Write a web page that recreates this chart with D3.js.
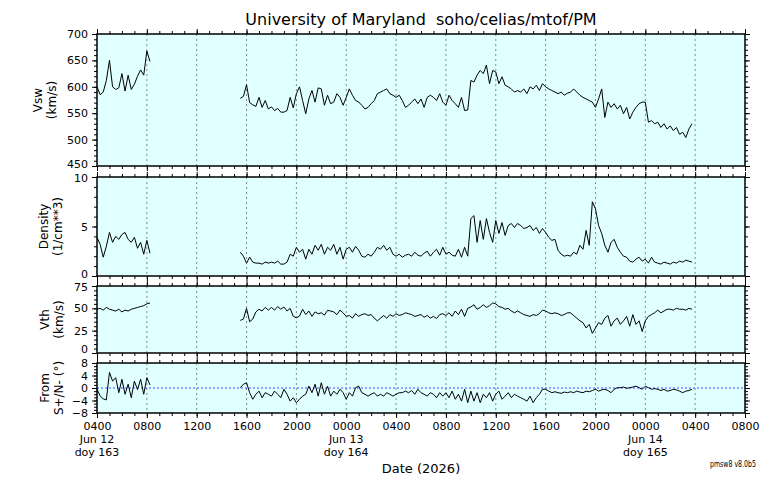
<!DOCTYPE html>
<html>
<head>
<meta charset="utf-8">
<style>
  body { margin: 0; background: #fff; }
  svg text { font-family: "DejaVu Sans", sans-serif; fill: #000; }
  svg .bg { fill: #e0ffff; }
  svg .frame { fill: none; stroke: #000; stroke-width: 1.5px; }
  svg .grid { stroke: #888; stroke-width: 1px; stroke-dasharray: 2,3; }
  svg .zero { stroke: #4a4aff; stroke-width: 1px; stroke-dasharray: 2,2; }
  svg .trace { fill: none; stroke: #000; stroke-width: 1px; stroke-linejoin: round; }
</style>
</head>
<body>
<script src="https://cdn.jsdelivr.net/npm/d3@7"></script>
<script>
// two data segments, 15 minute samples
var seg1Start = Date.UTC(2026, 5, 12, 4, 0);
var seg2Start = Date.UTC(2026, 5, 12, 15, 30);
var stepMin = 15;

var vswSeg1 = [600, 585, 590, 612, 650, 600, 595, 598, 625, 592, 622, 595, 605, 620, 632, 622, 668, 648];
var vswSeg2 = [578, 582,
  604, 570, 566, 563,  580, 561, 574, 558,  562, 555, 559, 552,  552, 555, 580, 560,
  587, 600, 574, 549,  577, 593, 571, 598,  596, 565, 584, 568,  571, 587, 580, 565,
  580, 596, 584, 574,  571, 565, 558, 561,  568, 574, 587, 590,  593, 596, 587, 584,
  580, 584, 574, 561,  565, 571, 577, 568,  577, 561, 580, 584,  580, 574, 587, 571,
  565, 584, 574, 568,  561, 580, 555, 556,  612, 609, 622, 631,  625, 641, 606, 631,
  628, 606, 619, 603,  600, 596, 590, 593,  590, 596, 587, 600,  596, 603, 593, 606,
  600, 596, 593, 590,  587, 590, 584, 588,  590, 596, 590, 584,  580, 577, 574, 571,
  561, 577, 596, 542,  571, 561, 568, 558,  565, 549, 561, 539,  552, 561, 568, 571,
  571, 533, 536, 530,  533, 523, 530, 520,  526, 517, 523, 510,  514, 504, 520, 530];

var denSeg1 = [3.9, 3.2, 1.9, 3.0, 4.4, 3.4, 4.0, 3.7, 4.2, 4.4, 3.7, 3.4, 3.9, 2.8, 3.4, 2.2, 3.6, 2.3];
var denSeg2 = [2.4, 2.0,
  1.3, 1.9, 1.4, 1.3,  1.3, 1.2, 1.4, 1.3,  1.4, 1.3, 1.5, 1.2,  1.2, 1.4, 2.2, 2.0,
  2.9, 2.4, 2.7, 1.7,  2.7, 2.2, 3.1, 2.6,  3.2, 2.2, 2.9, 2.6,  3.2, 2.2, 2.9, 1.7,
  2.7, 2.9, 2.4, 3.0,  2.6, 2.0, 1.9, 2.2,  2.0, 2.4, 2.9, 2.7,  3.1, 2.6, 2.9, 2.2,
  2.0, 2.2, 1.9, 2.1,  2.2, 2.0, 2.4, 2.1,  2.0, 2.3, 2.5, 2.0,  2.4, 2.7, 2.1, 2.9,
  2.2, 2.4, 2.1, 2.0,  2.7, 1.9, 2.9, 2.0,  5.8, 6.1, 3.4, 5.6,  3.7, 5.8, 4.4, 3.4,
  5.6, 4.3, 5.4, 4.1,  5.1, 5.3, 4.9, 5.3,  5.1, 4.8, 4.9, 5.1,  4.6, 4.9, 4.3, 4.8,
  4.4, 3.9, 3.6, 3.7,  2.6, 2.2, 2.0, 2.1,  2.0, 2.4, 2.2, 3.1,  2.7, 4.6, 3.1, 7.5,
  6.8, 5.1, 4.3, 3.1,  2.4, 3.4, 3.7, 2.9,  2.4, 2.0, 1.9, 1.5,  1.4, 1.7, 1.9, 1.5,
  1.7, 1.3, 1.9, 1.4,  1.3, 1.2, 1.4, 1.3,  1.2, 1.4, 1.3, 1.5,  1.4, 1.6, 1.5, 1.4];

var vthSeg1 = [49, 50, 48, 51, 49, 48, 47, 49, 46, 48, 47, 49, 50, 51, 52, 53, 55, 56];
var vthSeg2 = [36.5, 38,
  50, 35, 38, 46,  49, 47, 51, 48,  51, 48, 52, 49,  51.5, 47, 50, 41,
  39.4, 41.3, 49, 43,  47, 41, 46, 44,  45, 42.4, 47.7, 47,  46, 43, 48, 45,
  41, 42, 39, 44,  41, 43, 44, 42,  43, 39, 36, 39,  42, 39, 43, 41,
  44, 42, 43, 45,  44, 43, 41, 42,  43, 40, 42, 39,  41, 38.6, 43, 44,
  42, 45, 41, 47,  43, 49, 41, 50,  51.5, 54, 49, 51,  54, 51, 53, 56,
  55, 52, 51, 49,  50, 47, 45, 47,  45, 43, 42, 41,  43, 42, 44, 48,
  47, 45, 44, 45,  44, 42, 43, 45,  45, 42, 39, 36,  34, 28, 32, 22,
  28, 34, 32, 39,  42, 30, 36, 39,  32, 36, 41, 30,  43, 32, 36, 24,
  36, 41, 43, 45,  48, 45, 47, 49,  49, 48, 50, 49,  49, 48, 50, 49];

var angSeg1 = [-0.4, -2.5, -3.5, -3.8, 5.0, 2.2, 3.3, -1.5, 2.8, -2.0, 1.2, -3.1, 2.2, -0.5, 2.8, -2.0, 3.3, 1.0];
var angSeg2 = [0.1, 1.2,
  1.7, -1.5, -3.6, -2,  -1, -3.1, -1.5, -2,  -2.6, -1, -2, -3.1,  -0.4, -2, -4.2, -3.1,
  -4.7, -3.6, -2.6, -2,  0.6, -1.5, 1.2, -2.6,  1.7, -2, 0.6, -2.6,  -1, -2, -0.4, -1.5,
  -3.6, -1.5, -2.6, 0.1,  0.6, -1.5, -2, -2.6,  -2, -1.5, -2.6, -2,  -2.6, -1.5, -2, -2.6,
  -2, -1.5, -1.5, -1,  -1.5, -0.8, -2, -0.4,  -1.5, -2, -2.6, -1.5,  -2, -3.1, -1.5, -2.6,
  -1.5, -3.1, -1, -3.6,  -2, -4.2, -0.4, -4.7,  -1, -4.2, -1.5, -4.7,  -2, -3.1, -1.5, -4.2,
  -2, -1, -3.6, -2.6,  -1.5, -3.1, -2, -2.6,  -3.1, -3.6, -4.2, -2.6,  -4.7, -3.1, -2, -0.4,
  -0.4, -1, -1.5, -1.2,  -1.5, -1.7, -1.3, -1.5,  -1.2, -1.5, -1, -1.3,  -1.5, -1, -1.2, -0.8,
  -0.4, -1, -0.6, -0.4,  -0.8, -1.5, -0.4, 0.1,  0.1, 0.3, -0.1, 0.1,  0.3, 0.6, 0.1, -0.4,
  0.6, 0.1, -0.4, -0.2,  -0.4, -0.8, -0.4, -1,  -0.8, -0.4, -0.6, -1,  -1.5, -1, -0.8, -0.4];

// axes
var xDomain = [new Date(Date.UTC(2026, 5, 12, 4)), new Date(Date.UTC(2026, 5, 14, 8))];
var xTickLabels = ["0400", "0800", "1200", "1600", "2000", "0000", "0400",
                   "0800", "1200", "1600", "2000", "0000", "0400", "0800"];
var dayLabels = [
  { at: Date.UTC(2026, 5, 12, 4), lines: ["Jun 12", "doy 163"] },
  { at: Date.UTC(2026, 5, 13, 0), lines: ["Jun 13", "doy 164"] },
  { at: Date.UTC(2026, 5, 14, 0), lines: ["Jun 14", "doy 165"] }
];
var yLabels = [["Vsw", "(km/s)"], ["Density", "(1/cm**3)"], ["Vth", "(km/s)"], ["From", "S+/N- (\u00b0)"]];
var yDomains = [[450, 700], [0, 10], [0, 75], [-8, 8]];
var yTicks = [[450, 500, 550, 600, 650, 700], [0, 5, 10], [0, 25, 50, 75], [-8, -4, 0, 4, 8]];
var yMinor = [10, 1, 5, 1];

var titleText = "University of Maryland  soho/celias/mtof/PM";
var xTitle = "Date (2026)";
var versionText = "pmsw8 v8.0b5";

// layout
var left = 97, right = 745;
var boxes = [
  { top: 34, bottom: 166, lx: [38, 52] },
  { top: 177, bottom: 276, lx: [44, 58] },
  { top: 286, bottom: 353, lx: [45, 59] },
  { top: 363, bottom: 413, lx: [45, 59] }
];
// dy of the lowest / highest y label in each panel, pulled in so neighbours do not collide
var endDy = [["0.1em", "0.32em"], ["0.1em", "0.45em"], ["-0.05em", "0.45em"], ["0.32em", "0.32em"]];
var series = [[vswSeg1, vswSeg2], [denSeg1, denSeg2], [vthSeg1, vthSeg2], [angSeg1, angSeg2]];

var svg = d3.select("body").append("svg")
    .attr("width", 776)
    .attr("height", 480);

var x = d3.scaleUtc().domain(xDomain).range([left, right]);
var majorTimes = d3.utcHour.every(4).range(xDomain[0], new Date(+xDomain[1] + 1));
var minorTimes = d3.utcHour.every(1).range(xDomain[0], new Date(+xDomain[1] + 1));

function toPoints(vals, start) {
  return vals.map(function (v, i) {
    return { t: new Date(start + i * stepMin * 60000), v: v };
  });
}

function styleAxis(g, size) {
  g.select(".domain").remove();
  g.selectAll("text")
    .style("font-family", "'DejaVu Sans', sans-serif")
    .style("font-size", size + "px");
}

boxes.forEach(function (b, k) {
  var y = d3.scaleLinear().domain(yDomains[k]).range([b.bottom, b.top]);
  var g = svg.append("g");

  g.append("rect").classed("bg", true)
    .attr("x", left).attr("y", b.top)
    .attr("width", right - left).attr("height", b.bottom - b.top);

  // vertical dotted grid
  g.selectAll("line.grid")
    .data(majorTimes.slice(1, -1))
    .enter().append("line")
      .classed("grid", true)
      .attr("x1", function (d) { return x(d); })
      .attr("x2", function (d) { return x(d); })
      .attr("y1", b.top)
      .attr("y2", b.bottom);

  if (k === 3) {
    g.append("line").classed("zero", true)
      .attr("x1", left).attr("x2", right)
      .attr("y1", y(0)).attr("y2", y(0));
  }

  var line = d3.line()
    .x(function (d) { return x(d.t); })
    .y(function (d) { return y(d.v); });

  g.append("path").classed("trace", true)
    .attr("d", line(toPoints(series[k][0], seg1Start)));
  g.append("path").classed("trace", true)
    .attr("d", line(toPoints(series[k][1], seg2Start)));

  var minorVals = d3.range(yDomains[k][0], yDomains[k][1] + 0.001, yMinor[k]);

  // left axis
  var ly = g.append("g")
      .attr("transform", "translate(" + left + ",0)")
      .call(d3.axisLeft(y).tickValues(yTicks[k]).tickSize(5).tickPadding(4).tickFormat(d3.format("d")))
      .call(styleAxis, 11);
  var last = yTicks[k].length - 1;
  ly.selectAll(".tick text")
    .attr("dy", function (d, i) {
      if (i === 0) return endDy[k][0];
      if (i === last) return endDy[k][1];
      return "0.32em";
    });
  g.append("g")
      .attr("transform", "translate(" + left + ",0)")
      .call(d3.axisLeft(y).tickValues(minorVals).tickSize(3).tickFormat(""))
      .call(styleAxis, 11);

  // right axis
  g.append("g")
      .attr("transform", "translate(" + right + ",0)")
      .call(d3.axisRight(y).tickValues(yTicks[k]).tickSize(5).tickFormat(""))
      .call(styleAxis, 11);
  g.append("g")
      .attr("transform", "translate(" + right + ",0)")
      .call(d3.axisRight(y).tickValues(minorVals).tickSize(3).tickFormat(""))
      .call(styleAxis, 11);

  // top axis
  g.append("g")
      .attr("transform", "translate(0," + b.top + ")")
      .call(d3.axisTop(x).tickValues(majorTimes).tickSize(5).tickFormat(""))
      .call(styleAxis, 11);
  g.append("g")
      .attr("transform", "translate(0," + b.top + ")")
      .call(d3.axisTop(x).tickValues(minorTimes).tickSize(3).tickFormat(""))
      .call(styleAxis, 11);

  // bottom axis, labelled only on the last panel
  var bottomAxis = d3.axisBottom(x).tickValues(majorTimes).tickSize(5).tickPadding(4);
  if (k === boxes.length - 1) {
    bottomAxis.tickFormat(function (d, i) { return xTickLabels[i]; });
  } else {
    bottomAxis.tickFormat("");
  }
  g.append("g")
      .attr("transform", "translate(0," + b.bottom + ")")
      .call(bottomAxis)
      .call(styleAxis, 11);
  g.append("g")
      .attr("transform", "translate(0," + b.bottom + ")")
      .call(d3.axisBottom(x).tickValues(minorTimes).tickSize(3).tickFormat(""))
      .call(styleAxis, 11);

  if (k === boxes.length - 1) {
    dayLabels.forEach(function (dl) {
      dl.lines.forEach(function (txt, j) {
        svg.append("text")
          .attr("x", x(new Date(dl.at)))
          .attr("y", b.bottom + 30 + j * 13)
          .attr("text-anchor", "middle")
          .style("font-size", "11px")
          .text(txt);
      });
    });
  }

  g.append("rect").classed("frame", true)
    .attr("x", left).attr("y", b.top)
    .attr("width", right - left).attr("height", b.bottom - b.top);

  // y title, two lines rotated
  var cy = (b.top + b.bottom) / 2;
  yLabels[k].forEach(function (txt, j) {
    svg.append("text")
      .attr("transform", "translate(" + b.lx[j] + "," + cy + ") rotate(-90)")
      .attr("text-anchor", "middle")
      .attr("dominant-baseline", "central")
      .style("font-size", "12px")
      .text(txt);
  });
});

svg.append("text")
  .attr("x", (left + right) / 2)
  .attr("y", 25)
  .attr("text-anchor", "middle")
  .style("font-size", "16px")
  .style("white-space", "pre")
  .text(titleText);

svg.append("text")
  .attr("x", (left + right) / 2)
  .attr("y", 473)
  .attr("text-anchor", "middle")
  .style("font-size", "13px")
  .text(xTitle);

svg.append("text")
  .attr("x", 756)
  .attr("y", 467)
  .attr("text-anchor", "end")
  .attr("textLength", 46)
  .attr("lengthAdjust", "spacingAndGlyphs")
  .style("font-size", "9px")
  .text(versionText);
</script>
</body>
</html>
